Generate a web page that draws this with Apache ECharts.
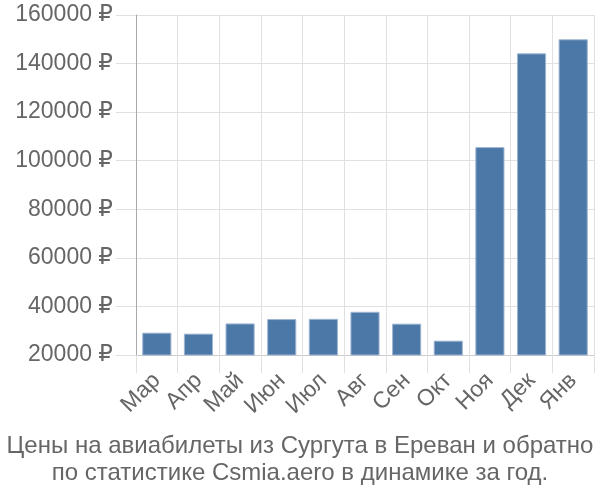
<!DOCTYPE html>
<html><head><meta charset="utf-8">
<script src="https://cdn.jsdelivr.net/npm/echarts@6/dist/echarts.min.js"></script>
<style>html,body{margin:0;padding:0;background:#fff}#c{width:600px;height:500px}</style>
</head><body><div id="c"></div>
<script>
const categories = ['Мар','Апр','Май','Июн','Июл','Авг','Сен','Окт','Ноя','Дек','Янв'];
const prices = [29200, 28800, 33000, 34800, 34900, 37800, 32900, 25900, 105600, 144200, 150000];
const titleLines = ['Цены на авиабилеты из Сургута в Ереван и обратно','по статистике Csmia.aero в динамике за год.'];
const font = '"Liberation Sans", "DejaVu Sans", sans-serif';
const chart = echarts.init(document.getElementById('c'));
chart.setOption({
  animation:false,
  title:{text:titleLines.join('\n'),left:'center',bottom:8,
    textStyle:{fontFamily:font,fontSize:24,fontWeight:'normal',color:'#666',lineHeight:27}},
  grid:{left:136,right:6,top:15,bottom:145,containLabel:false},
  xAxis:{type:'category',data:categories,
    axisLine:{lineStyle:{color:'#ccc'}},
    axisTick:{show:true,length:18,lineStyle:{color:'#e0e0e0'}},
    splitLine:{show:true,lineStyle:{color:'#e0e0e0'}},
    axisLabel:{rotate:45,margin:22,fontFamily:font,fontSize:23,color:'#666',interval:0}},
  yAxis:{type:'value',min:20000,max:160000,interval:20000,
    axisLine:{show:true,lineStyle:{color:'#aaa'}},
    axisTick:{show:true,length:20,lineStyle:{color:'#e0e0e0'}},
    splitLine:{lineStyle:{color:'#e0e0e0'}},
    axisLabel:{margin:23,fontFamily:font,fontSize:23,color:'#666',formatter:v=>v+' ₽'}},
  series:[{type:'bar',data:prices,barWidth:'70%',
    itemStyle:{color:'#4c78a8',borderColor:'#9fb6d2',borderWidth:1}}]
});
</script></body></html>
